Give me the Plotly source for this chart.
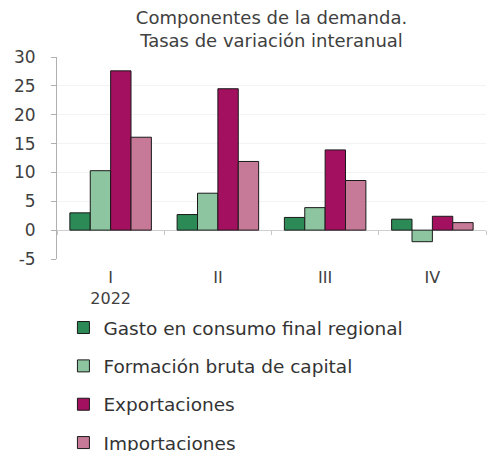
import plotly.graph_objects as go

quarters = ["I", "II", "III", "IV"]
tick_text = ["I<br>2022", "II", "III", "IV"]
y_ticks = [-5, 0, 5, 10, 15, 20, 25, 30]
y_tick_text = ["-5", "0", "5", "10", "15", "20", "25", "30"]

gasto = [3.0, 2.7, 2.2, 1.9]
formacion = [10.3, 6.4, 3.9, -2.0]
exportaciones = [27.6, 24.5, 13.9, 2.4]
importaciones = [16.1, 11.9, 8.6, 1.3]

series = [
    ("Gasto en consumo final regional", gasto, "#2b8a56"),
    ("Formación bruta de capital", formacion, "#8cc5a0"),
    ("Exportaciones", exportaciones, "#a3105f"),
    ("Importaciones", importaciones, "#c67a98"),
]

FONT = "'DejaVu Sans', Verdana, sans-serif"

fig = go.Figure()
for i, (name, vals, color) in enumerate(series):
    fig.add_trace(go.Bar(
        x=quarters,
        y=vals,
        name=name,
        legendgroup=str(i),
        marker=dict(color=color, line=dict(color="#1a1a1a", width=1)),
    ))

# helper trace so the second x axis (category dividers on the zero line) exists
fig.add_trace(go.Scatter(x=quarters, y=[None] * 4, xaxis="x2", showlegend=False,
                         hoverinfo="skip"))

fig.update_layout(
    width=488,
    height=451,
    barmode="group",
    bargap=0.24,
    bargroupgap=0,
    plot_bgcolor="white",
    paper_bgcolor="white",
    font=dict(family=FONT, size=16, color="#404040"),
    margin=dict(l=57, r=2, t=57, b=192),
    title=dict(
        text="Componentes de la demanda.<br>Tasas de variación interanual",
        x=0.5, xref="paper", xanchor="center",
        y=1, yref="paper", yanchor="bottom",
        pad=dict(b=33),
        font=dict(family=FONT, size=18, color="#404040"),
    ),
    xaxis=dict(
        tickmode="array",
        tickvals=quarters,
        ticktext=tick_text,
        showline=False,
        showgrid=False,
        ticks="",
        ticklabelstandoff=7,
        automargin=False,
        tickfont=dict(size=16, color="#404040"),
    ),
    xaxis2=dict(
        overlaying="x",
        matches="x",
        anchor="free",
        position=5 / 35,
        showline=False,
        showgrid=False,
        showticklabels=False,
        ticks="outside",
        tickson="boundaries",
        ticklen=4,
        tickcolor="#c8c8c8",
        automargin=False,
    ),
    yaxis=dict(
        range=[-5, 30],
        tickmode="array",
        tickvals=y_ticks,
        ticktext=y_tick_text,
        showline=True,
        linecolor="#b0b0b0",
        linewidth=1,
        ticks="outside",
        ticklen=5,
        tickcolor="#b0b0b0",
        ticklabelstandoff=12,
        showgrid=True,
        gridcolor="#f3f3f3",
        zeroline=True,
        zerolinecolor="#cfcfcf",
        zerolinewidth=1,
        automargin=False,
        tickfont=dict(size=17, color="#404040"),
    ),
    legend=dict(
        orientation="v",
        x=0.015,
        xanchor="left",
        xref="paper",
        y=1 - 309 / 451,
        yref="container",
        yanchor="top",
        traceorder="grouped",
        tracegroupgap=11.3,
        font=dict(family=FONT, size=18.5, color="#333333"),
        itemwidth=30,
    ),
)

fig.write_html("out.html", config={"displayModeBar": False},
               post_script="document.body.style.margin='0';")
